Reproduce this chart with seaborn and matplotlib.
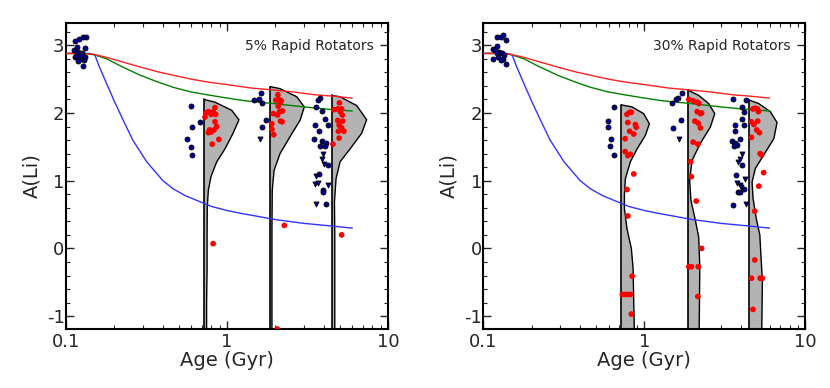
import numpy as np
import pandas as pd
import matplotlib
matplotlib.use('Agg')
import matplotlib.pyplot as plt
import seaborn as sns
from matplotlib.ticker import FixedLocator, FixedFormatter, MultipleLocator, LogLocator, NullFormatter

# ---- model curves (same in both panels) ----
age_red = [0.1, 0.13, 0.15, 0.18, 0.22, 0.288, 0.37, 0.48, 0.6, 0.748, 1.0, 1.4, 1.94, 2.6, 3.5, 4.5, 6.0]
ali_red = [2.88, 2.88, 2.865, 2.82, 2.76, 2.68, 2.61, 2.55, 2.50, 2.46, 2.42, 2.37, 2.34, 2.31, 2.27, 2.25, 2.22]
age_green = [0.1, 0.13, 0.15, 0.179, 0.22, 0.288, 0.37, 0.463, 0.6, 0.75, 0.948, 1.3, 1.94, 3.0, 4.5, 6.0]
ali_green = [2.88, 2.88, 2.86, 2.80, 2.69, 2.56, 2.46, 2.38, 2.31, 2.27, 2.23, 2.18, 2.14, 2.09, 2.05, 2.03]
age_blue = [0.1, 0.14, 0.151, 0.16, 0.179, 0.2, 0.227, 0.26, 0.317, 0.40, 0.463, 0.55, 0.648, 0.8, 1.0, 1.205, 1.5, 1.94, 3.0, 4.5, 6.0]
ali_blue = [2.88, 2.88, 2.86, 2.70, 2.43, 2.17, 1.89, 1.60, 1.28, 1.00, 0.88, 0.78, 0.71, 0.62, 0.56, 0.52, 0.48, 0.43, 0.37, 0.33, 0.30]

# ---- violin outlines: base age, A(Li) levels, half-width in dex of age ----
vio_age = [0.72, 1.85, 4.47]
vio_age_r = [0.72, 1.86, 4.49]
vio5_y = [
    [2.20, 2.16, 2.04, 1.90, 1.70, 1.47, 1.28, 1.06, 0.86, 0.61, 0.2, -0.3, -0.8, -1.25],
    [2.39, 2.36, 2.24, 2.09, 1.89, 1.65, 1.40, 1.15, 0.86, 0.3, -0.5, -1.25],
    [2.26, 2.24, 2.11, 1.90, 1.70, 1.47, 1.28, 1.03, 0.69, 0.2, -0.5, -1.25],
]
vio5_w = [
    [0, .068, .172, .217, .180, .130, .079, .043, .027, .020, .019, .019, .016, .016],
    [0, .062, .166, .213, .186, .124, .062, .025, .014, .012, .012, .012],
    [0, .052, .155, .217, .186, .114, .052, .027, .017, .019, .019, .019],
]
vio30_y = [
    [2.12, 2.09, 1.99, 1.84, 1.67, 1.47, 1.28, 1.03, 0.79, 0.59, 0.29, 0.0, -0.30, -0.69, -1.25],
    [2.34, 2.26, 2.14, 1.99, 1.79, 1.55, 1.30, 1.01, 0.71, 0.42, 0.17, -0.27, -1.25],
    [2.19, 2.14, 2.02, 1.86, 1.62, 1.38, 1.18, 0.98, 0.74, 0.44, 0.20, -0.15, -0.47, -1.25],
]
vio30_w = [
    [0, .066, .139, .174, .149, .098, .056, .025, .019, .019, .035, .062, .073, .076, .081],
    [0, .068, .130, .168, .140, .078, .027, .012, .020, .047, .068, .075, .071],
    [0, .058, .130, .172, .152, .089, .037, .017, .023, .043, .065, .073, .081, .077],
]

# ---- 5% panel points ----
blue5_x = [0.114, 0.121, 0.128, 0.133, 0.117, 0.131, 0.112, 0.118, 0.126, 0.113, 0.122, 0.119, 0.132, 0.127, 0.115, 0.124, 0.129,
           0.597, 0.61, 0.68, 0.565, 0.595, 0.61,
           1.63, 1.58, 1.47, 1.66, 1.75, 1.65,
           3.78, 3.69, 3.57, 3.91, 4.06, 4.26, 3.53, 3.75, 3.49, 3.87, 4.12, 3.78, 4.06, 4.26, 3.75, 3.93, 3.96, 4.10]
blue5_y = [3.07, 3.10, 3.12, 3.13, 2.97, 2.96, 2.93, 2.90, 2.88, 2.82, 2.80, 2.77, 2.82, 2.70, 2.84, 2.86, 2.78,
           2.10, 1.79, 1.86, 1.61, 1.50, 1.38,
           2.30, 2.21, 2.19, 2.15, 1.89, 1.79,
           2.22, 2.19, 2.09, 2.03, 1.91, 1.83, 1.83, 1.73, 1.62, 1.59, 1.55, 1.52, 1.51, 1.23, 1.10, 0.87, 0.83, 0.65]
tri5_x = [1.60, 3.97, 3.87, 4.00, 3.57, 3.53, 3.65, 4.26, 3.55]
tri5_y = [1.62, 1.39, 1.32, 1.25, 1.07, 0.95, 0.97, 0.93, 0.66]
red5_x = [0.738, 0.73, 0.766, 0.796, 0.842, 0.85, 0.82, 0.842, 0.863, 0.78, 0.766, 0.80, 0.83, 0.89, 0.81, 0.82,
          2.07, 2.01, 2.10, 2.17, 2.13, 2.08, 1.94, 2.06, 2.12, 2.21, 2.15, 2.20, 1.90, 1.90, 1.95, 2.27, 2.05,
          4.99, 4.63, 4.87, 5.15, 5.05, 5.20, 4.87, 5.23, 4.97, 5.15, 4.92, 5.32, 4.97, 4.55, 5.15]
red5_y = [2.00, 1.94, 2.02, 1.98, 2.08, 1.98, 2.02, 1.87, 1.80, 1.75, 1.71, 1.72, 1.75, 1.61, 1.54, 0.07,
          2.27, 2.19, 2.20, 2.18, 2.15, 2.10, 1.99, 1.97, 2.02, 2.03, 1.88, 1.87, 1.84, 1.76, 1.68, 0.34, -1.19,
          2.15, 2.05, 2.06, 2.06, 2.02, 1.97, 1.89, 1.88, 1.82, 1.78, 1.73, 1.73, 1.63, 1.54, 0.20]

# ---- 30% panel points ----
blue30_x = [0.121, 0.128, 0.133, 0.138, 0.115, 0.122, 0.119, 0.126, 0.121, 0.130, 0.115, 0.124, 0.133, 0.138, 0.135, 0.128,
            0.645, 0.593, 0.595, 0.62, 0.61, 0.65,
            1.71, 1.61, 1.57, 1.48, 1.69, 1.50,
            3.54, 4.28, 4.06, 4.13, 4.06, 4.18, 3.66, 3.66, 3.50, 3.94, 3.66, 3.76, 3.62, 4.03, 3.72, 3.79, 3.92, 4.17, 3.54]
blue30_y = [3.12, 3.13, 3.15, 3.08, 2.95, 2.99, 2.93, 2.90, 2.88, 2.88, 2.80, 2.83, 2.80, 2.73, 2.85, 2.78,
            2.09, 1.88, 1.79, 1.61, 1.51, 1.38,
            2.30, 2.22, 2.20, 2.15, 1.90, 1.78,
            2.21, 2.19, 2.09, 2.02, 1.91, 1.83, 1.83, 1.73, 1.59, 1.62, 1.56, 1.53, 1.51, 1.23, 1.09, 0.83, 0.84, 0.88, 0.64]
tri30_x = [1.65, 4.06, 3.90, 3.81, 4.21, 3.76, 3.90, 4.00, 4.30]
tri30_y = [1.62, 1.39, 1.32, 1.27, 1.02, 0.96, 0.93, 0.91, 0.65]
red30_x = [0.78, 0.81, 0.83, 0.79, 0.88, 0.89, 0.81, 0.86, 0.76, 0.76, 0.79, 0.82, 0.86, 0.78, 0.79, 0.84, 0.73, 0.76, 0.79, 0.82, 0.83,
           1.89, 2.01, 2.13, 2.18, 2.13, 2.23, 2.27, 2.06, 2.16, 2.23, 2.01, 2.15, 1.94, 1.96, 2.10, 2.27, 1.89, 1.96, 2.16, 2.15,
           4.73, 4.88, 5.04, 5.11, 4.63, 4.79, 5.06, 4.99, 5.19, 4.63, 5.24, 5.35, 5.51, 5.14, 4.85, 4.85, 4.63, 5.24, 5.40, 4.73]
red30_y = [1.98, 2.01, 2.01, 1.86, 1.83, 1.79, 1.73, 1.69, 1.62, 1.43, 1.37, 1.39, 1.10, 0.87, 0.48, -0.41, -0.68, -0.68, -0.68, -0.68, -0.97,
           2.20, 2.18, 2.16, 2.14, 2.02, 1.99, 2.00, 1.88, 1.85, 1.78, 1.57, 1.54, 1.28, 1.06, 0.70, 0.00, -0.27, -0.27, -0.27, -0.71,
           2.06, 2.07, 2.06, 2.02, 1.87, 1.83, 1.88, 1.75, 1.71, 1.64, 1.40, 1.38, 1.12, 0.92, 0.55, -0.17, -0.44, -0.44, -0.44, -0.90]

sns.set_style('ticks', {'xtick.direction': 'in', 'ytick.direction': 'in'})
plt.rcParams['font.family'] = ['DejaVu Sans']
plt.rcParams['axes.unicode_minus'] = False

fig = plt.figure(figsize=(8.3, 3.88), dpi=100)
ax1 = fig.add_axes([0.0795, 0.1521, 0.388, 0.7887])
ax2 = fig.add_axes([0.5823, 0.1521, 0.388, 0.7887])

panels = [
    (ax1, '5% Rapid Rotators', vio_age, vio5_y, vio5_w, blue5_x, blue5_y, tri5_x, tri5_y, red5_x, red5_y),
    (ax2, '30% Rapid Rotators', vio_age_r, vio30_y, vio30_w, blue30_x, blue30_y, tri30_x, tri30_y, red30_x, red30_y),
]

for ax, label, vages, vys, vws, bx, by, tx, ty, rx, ry in panels:
    ax.set_xscale('log')

    # half violins
    for x0, vy, vw in zip(vages, vys, vws):
        xr = x0 * 10 ** np.array(vw)
        ax.fill_betweenx(vy, x0, xr, facecolor='#b3b3b3', edgecolor='none', zorder=1)
        ax.plot(xr, vy, color='black', lw=1.0, zorder=2)
        ax.plot([x0, x0], [vy[0], vy[-1]], color='black', lw=1.2, zorder=2)

    # model tracks
    sns.lineplot(x=age_blue, y=ali_blue, ax=ax, color='#3333ff', lw=1.0, sort=False, estimator=None, zorder=3)
    sns.lineplot(x=age_green, y=ali_green, ax=ax, color='#008000', lw=1.0, sort=False, estimator=None, zorder=3)
    sns.lineplot(x=age_red, y=ali_red, ax=ax, color='#ff2020', lw=1.0, sort=False, estimator=None, zorder=3)

    # observed stars
    sns.scatterplot(x=bx, y=by, ax=ax, color='#000099', marker='o', s=13, edgecolor='black', linewidth=0.6, zorder=4)
    sns.scatterplot(x=tx, y=ty, ax=ax, color='#000099', marker='v', s=13, edgecolor='black', linewidth=0.6, zorder=4)
    sns.scatterplot(x=rx, y=ry, ax=ax, color='#ff0000', marker='o', s=17, edgecolor='none', zorder=5)

    ax.set_xlim(0.1, 10)
    ax.set_ylim(-1.19, 3.33)
    ax.xaxis.set_major_locator(FixedLocator([0.1, 1, 10]))
    ax.xaxis.set_major_formatter(FixedFormatter(['0.1', '1', '10']))
    ax.xaxis.set_minor_locator(LogLocator(base=10, subs=np.arange(2, 10)))
    ax.xaxis.set_minor_formatter(NullFormatter())
    ax.yaxis.set_major_locator(FixedLocator([-1, 0, 1, 2, 3]))
    ax.yaxis.set_major_formatter(FixedFormatter(['-1', '0', '1', '2', '3']))
    ax.yaxis.set_minor_locator(MultipleLocator(0.2))
    ax.tick_params(which='both', direction='in', top=True, right=True, labelsize=13)
    ax.tick_params(which='major', length=6, width=1.0)
    ax.tick_params(which='minor', length=3, width=0.8)
    ax.tick_params(axis='y', pad=1)
    ax.tick_params(axis='x', pad=3)
    for sp in ax.spines.values():
        sp.set_linewidth(1.5)
        sp.set_color('black')

    ax.set_xlabel('Age (Gyr)', fontsize=14, labelpad=0)
    ax.set_ylabel('A(Li)', fontsize=14, labelpad=4)
    ax.text(0.955, 0.925, label, transform=ax.transAxes, ha='right', va='center', fontsize=10)

fig.savefig('out.png', dpi=100)
